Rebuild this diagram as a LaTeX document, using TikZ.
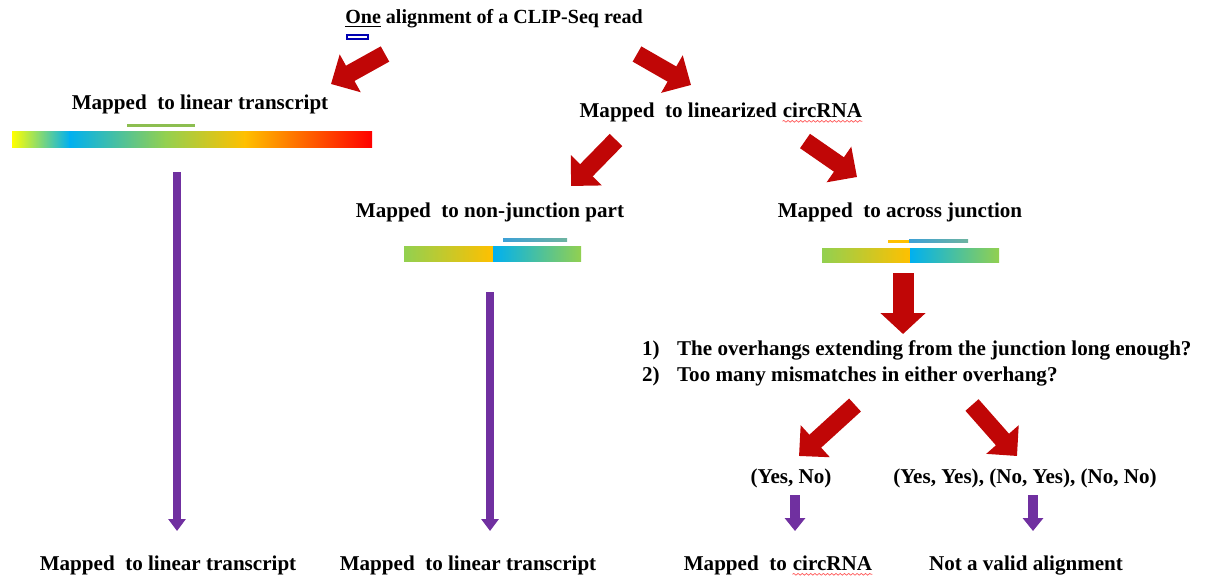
\documentclass[tikz,border=0pt]{standalone}
\usepackage{fontspec}
\setmainfont{Liberation Serif}
\usetikzlibrary{calc, positioning}
\usetikzlibrary{arrows.meta}
\usetikzlibrary{decorations.pathmorphing}

\definecolor{arrowred}{RGB}{192,6,6}
\definecolor{arrowpurple}{RGB}{112,48,160}
\definecolor{barYellow}{RGB}{255,255,0}
\definecolor{barBlue}{RGB}{0,176,240}
\definecolor{barGreen}{RGB}{146,208,80}
\definecolor{barOrange}{RGB}{255,192,0}
\definecolor{barRed}{RGB}{255,0,0}
\definecolor{readGreen}{RGB}{140,190,80}
\definecolor{readBlue}{RGB}{60,160,215}
\definecolor{readTeal}{RGB}{110,180,160}

\begin{document}
\begin{tikzpicture}[x=0.02cm, y=-0.02cm]
\tikzset{
  lbl/.style={font=\fontsize{12}{14}\selectfont\bfseries, inner sep=1pt},
  spell/.style={red!65, line width=0.4pt, decorate, decoration={snake, amplitude=0.5pt, segment length=2.4pt}},
  redarr/.style={arrowred, line width=0.35cm, -{Triangle[length=0.44cm, width=0.84cm]}},
  purparr/.style={arrowpurple, line width=0.16cm, -{Triangle[length=0.24cm, width=0.34cm]}},
  shortarr/.style={arrowpurple, line width=0.2cm, -{Triangle[length=0.26cm, width=0.4cm]}},
}
\useasboundingbox (0,0) rectangle (1212,582);

% labels
\node[lbl, font=\fontsize{11.4}{14}\selectfont\bfseries] (title) at (494,19) {\underline{One} alignment of a CLIP-Seq read};
\node[lbl] (lintop) at (200,104) {Mapped\ \ to linear transcript};
\node[lbl, anchor=east] (circa) at (779,112) {Mapped\ \ to linearized};
\node[lbl, anchor=base west] (circb) at ($(circa.base east)+(1pt,0)$) {circRNA};
\node[lbl] (nonj) at (490,212) {Mapped\ \ to non-junction part};
\node[lbl] (acr) at (900,212) {Mapped\ \ to across junction};
\node[lbl, anchor=west] (q1) at (640,350) {\makebox[0.7cm][l]{1)}The overhangs extending from the junction long enough?};
\node[lbl, anchor=west] (q2) at (640,377) {\makebox[0.7cm][l]{2)}Too many mismatches in either overhang?};
\node[lbl] (yesno) at (791,478) {(Yes, No)};
\node[lbl] (other) at (1025,478) {(Yes, Yes), (No, Yes), (No, No)};
\node[lbl] (bot1) at (168,565) {Mapped\ \ to linear transcript};
\node[lbl] (bot2) at (468,565) {Mapped\ \ to linear transcript};
\node[lbl, anchor=east] (bot3a) at (789,565) {Mapped\ \ to};
\node[lbl, anchor=base west] (bot3b) at ($(bot3a.base east)+(1pt,0)$) {circRNA};
\node[lbl] (bot4) at (1026,565) {Not a valid alignment};

% spelling marks
\draw[spell] ($(circb.base west)+(1pt,-2.4pt)$) -- ($(circb.base east)+(-1pt,-2.4pt)$);
\draw[spell] ($(bot3b.base west)+(1pt,-2.4pt)$) -- ($(bot3b.base east)+(-1pt,-2.4pt)$);

% small box under the title
\draw[blue!70!black, line width=0.7pt] (347,35) rectangle (368,39);

% linear transcript bar
\shade[left color=barYellow, right color=barBlue] (12,131) rectangle (70,147);
\shade[left color=barBlue, right color=barGreen] (69.5,131) rectangle (165,147);
\shade[left color=barGreen, right color=barOrange] (164.5,131) rectangle (245,147);
\shade[left color=barOrange, right color=barRed] (244.5,131) rectangle (372,147);
\draw[readGreen, line width=0.06cm] (127,125) -- (195,125);

% non-junction bar
\shade[left color=barGreen, right color=barOrange] (404,246) rectangle (493,261);
\shade[left color=barBlue, right color=barGreen] (493,246) rectangle (581,261);
\shade[left color=readBlue, right color=readTeal] (503,238.5) rectangle (567,241.5);

% across junction bar
\shade[left color=barGreen, right color=barOrange] (822,248) rectangle (910,262);
\shade[left color=barBlue, right color=barGreen] (910,248) rectangle (999,262);
\fill[barOrange] (888,239.5) rectangle (909,242.5);
\shade[left color=readBlue, right color=readTeal] (909,239.5) rectangle (968,242.5);

% arrow ends
\coordinate (a1s) at (385,54);
\coordinate (a1e) at (331,84);
\coordinate (a2s) at (637,54);
\coordinate (a2e) at (691,85);
\coordinate (a3s) at (616,140);
\coordinate (a3e) at (571,186);
\coordinate (a4s) at (805,141);
\coordinate (a4e) at (857,177);
\coordinate (a5s) at (903,273);
\coordinate (a5e) at (903,334);
\coordinate (a6s) at (855,405);
\coordinate (a6e) at (799,456);
\coordinate (a7s) at (972,405);
\coordinate (a7e) at (1017,456);
\coordinate (p1s) at (177,172);
\coordinate (p1e) at (177,531);
\coordinate (p2s) at (490,292);
\coordinate (p2e) at (490,531);
\coordinate (p3s) at (795,495);
\coordinate (p3e) at (795,531);
\coordinate (p4s) at (1033,495);
\coordinate (p4e) at (1033,531);

\draw[redarr] (a1s) -- (a1e);
\draw[redarr] (a2s) -- (a2e);
\draw[redarr] (a3s) -- (a3e);
\draw[redarr] (a4s) -- (a4e);
\draw[redarr, line width=0.42cm, -{Triangle[length=0.42cm, width=0.88cm]}] (a5s) -- (a5e);
\draw[redarr] (a6s) -- (a6e);
\draw[redarr] (a7s) -- (a7e);
\draw[purparr] (p1s) -- (p1e);
\draw[purparr] (p2s) -- (p2e);
\draw[shortarr] (p3s) -- (p3e);
\draw[shortarr] (p4s) -- (p4e);
\end{tikzpicture}
\end{document}
